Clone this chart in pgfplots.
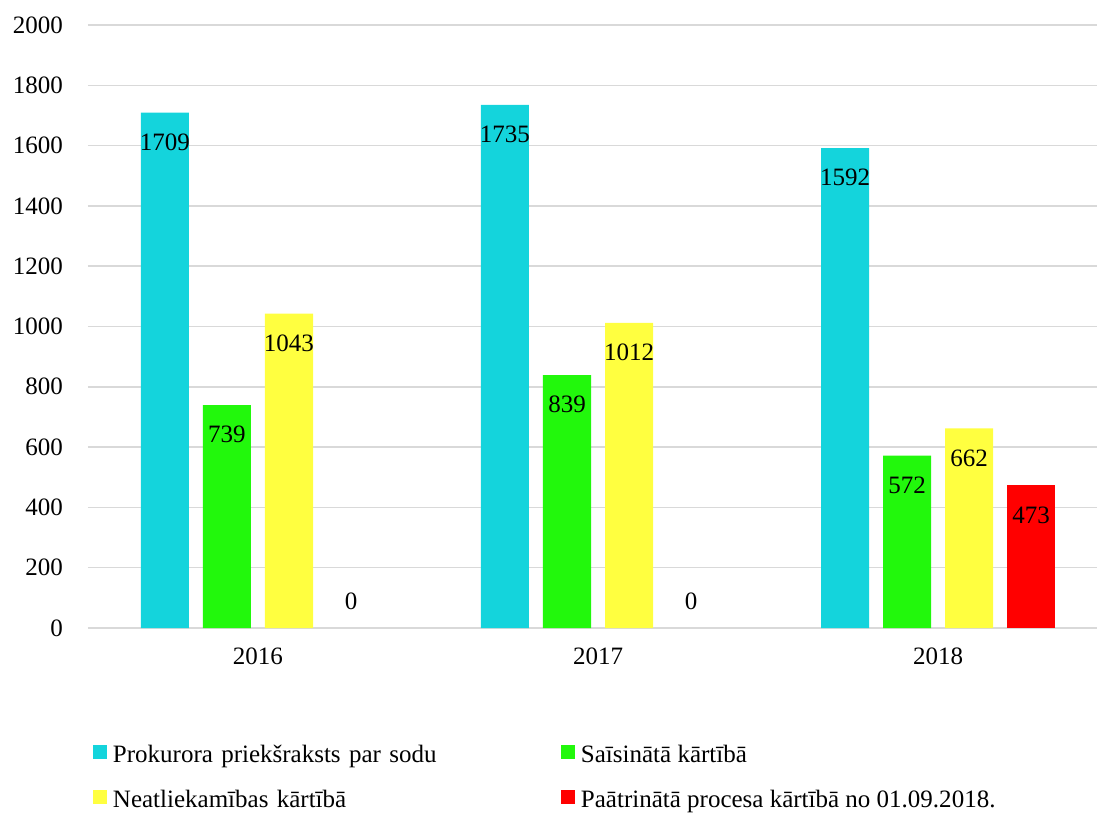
\documentclass[border=0pt]{standalone}
\usepackage{pgfplots}
\pgfplotsset{compat=1.18}
\usepackage{fontspec}
\setmainfont{Liberation Serif}
\definecolor{ccyan}{HTML}{14D4DC}
\definecolor{cgreen}{HTML}{22F80C}
\definecolor{cyellow}{HTML}{FFFF40}
\definecolor{cred}{HTML}{FF0000}
\definecolor{cgrid}{HTML}{D9D9D9}
\begin{document}
\fontsize{25pt}{30pt}\selectfont
\begin{tikzpicture}
\useasboundingbox (-88pt,-186pt) rectangle (1009pt,628pt);
\begin{axis}[
  scale only axis,
  width=1020pt, height=603pt,
  xmin=-0.5, xmax=2.5,
  ymin=0, ymax=2000,
  ytick={0,200,...,2000},
  xtick={0,1,2},
  xticklabels={2016,2017,2018},
  axis x line*=bottom,
  axis y line*=left,
  x axis line style={draw=cgrid, line width=1.5pt, -},
  y axis line style={draw=none},
  ymajorgrids,
  grid style={cgrid, line width=1.5pt},
  major tick length=0pt,
  tick style={draw=none},
  /pgf/number format/assume math mode=true,
  /pgf/number format/1000 sep={},
  ticklabel style={font=\fontsize{25pt}{30pt}\selectfont},
  yticklabel style={anchor=east, xshift=-25pt, inner sep=0pt},
  xticklabel style={anchor=north, yshift=-20pt, inner sep=0pt},
  ybar,
  bar width=48pt,
  clip=false,
  nodes near coords,
  every node near coord/.append style={font=\fontsize{25pt}{30pt}\selectfont, anchor=north, inner sep=0pt, yshift=-21pt, black},
  legend columns=2,
  legend cell align=left,
  legend image code/.code={\fill[#1] (0pt,-2pt) rectangle (14pt,12pt);},
  legend style={
    draw=none, inner sep=0pt, outer sep=0pt,
    at={(axis description cs:0,0)}, anchor=north west,
    xshift=5pt, yshift=-116pt,
    font=\fontsize{25pt}{30pt}\selectfont,
    column sep=0pt, row sep=20pt,
    nodes={inner sep=0pt, text height=18pt, text depth=7pt, align=left},
  },
  /tikz/every odd column/.append style={column sep=6pt},
  /tikz/every even column/.append style={column sep=0pt},
]
\addplot[fill=ccyan, draw=none, bar shift=-93pt] coordinates {(0,1709) (1,1735) (2,1592)};
\addlegendentry[text width=448pt]{Prokurora priekšraksts par sodu}
\addplot[fill=cgreen, draw=none, bar shift=-31pt] coordinates {(0,739) (1,839) (2,572)};
\addlegendentry{Saīsinātā kārtībā}
\addplot[fill=cyellow, draw=none, bar shift=31pt] coordinates {(0,1043) (1,1012) (2,662)};
\addlegendentry[text width=448pt]{Neatliekamības kārtībā}
\addplot[fill=cred, draw=none, bar shift=93pt] coordinates {(2,473)};
\addlegendentry{Paātrinātā procesa kārtībā no 01.09.2018.}
\addplot[fill=none, draw=none, bar shift=93pt, forget plot,
  every node near coord/.append style={anchor=south, yshift=39pt}] coordinates {(0,0) (1,0)};
\end{axis}
\end{tikzpicture}
\end{document}
